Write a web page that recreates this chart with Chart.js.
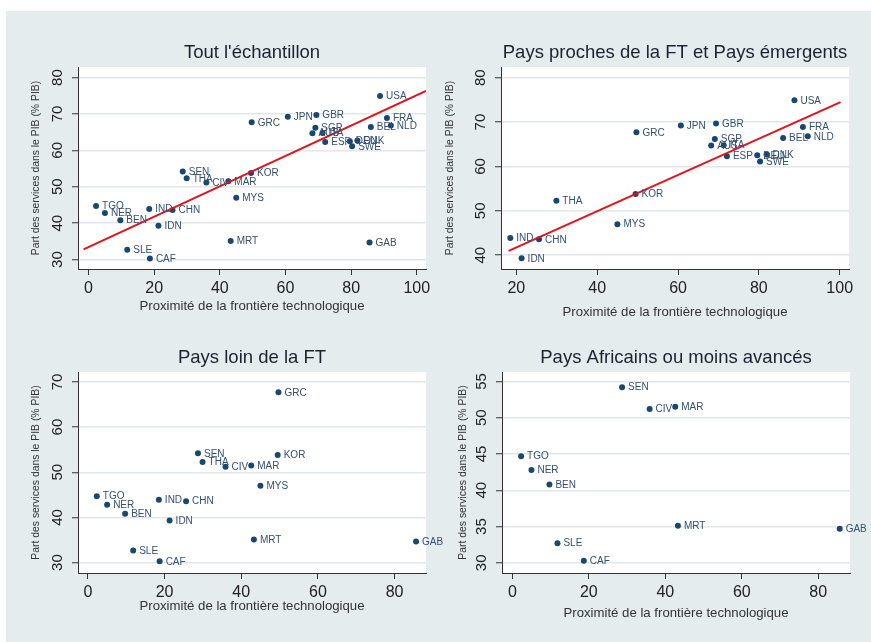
<!DOCTYPE html>
<html>
<head>
<meta charset="utf-8">
<script src="https://cdn.jsdelivr.net/npm/chart.js@4"></script>
<style>
body { margin: 0; background: #fff; }
#bg { position: absolute; left: 6px; top: 11px; width: 865px; height: 631px; background: #e4ecee; }
canvas { position: absolute; }
</style>
</head>
<body>
<div id="bg"></div>
<canvas id="c4" width="436" height="321" style="left:435px;top:321px"></canvas>
<canvas id="c3" width="460" height="321" style="left:0px;top:321px"></canvas>
<canvas id="c2" width="436" height="321" style="left:435px;top:0px"></canvas>
<canvas id="c1" width="435" height="321" style="left:0px;top:0px"></canvas>
<script>
// pays, proximité de la frontière technologique, part des services (% PIB)
const countries = ['USA', 'JPN', 'GBR', 'GRC', 'FRA', 'NLD', 'BEL', 'SGP', 'AUS', 'ITA',
    'ESP', 'DEU', 'DNK', 'SWE', 'KOR', 'SEN', 'THA', 'CIV', 'MAR', 'MYS',
    'TGO', 'NER', 'BEN', 'IND', 'CHN', 'IDN', 'MRT', 'GAB', 'SLE', 'CAF'];
const proximity = [88.8, 60.7, 69.4, 49.7, 90.9, 92.1, 86.0, 69.1, 68.2, 71.3,
    72.1, 79.6, 81.9, 80.3, 49.5, 28.7, 29.9, 35.9, 42.6, 45.0,
    2.3, 5.0, 9.7, 18.5, 25.6, 21.3, 43.3, 85.6, 11.8, 18.7];
const services = [74.9, 69.2, 69.7, 67.7, 68.9, 66.8, 66.4, 66.2, 64.7, 64.8,
    62.3, 62.5, 62.7, 61.1, 53.8, 54.2, 52.3, 51.2, 51.5, 47.0,
    44.7, 42.8, 40.8, 43.9, 43.6, 39.3, 35.1, 34.7, 32.7, 30.3];

const nearGroup = ['USA', 'JPN', 'GBR', 'GRC', 'FRA', 'NLD', 'BEL', 'SGP', 'AUS', 'ITA',
    'ESP', 'DEU', 'DNK', 'SWE', 'KOR', 'THA', 'MYS', 'IND', 'CHN', 'IDN'];
const farGroup = ['GRC', 'SEN', 'THA', 'CIV', 'MAR', 'KOR', 'MYS', 'TGO', 'NER', 'BEN',
    'IND', 'CHN', 'IDN', 'MRT', 'GAB', 'SLE', 'CAF'];
const africaGroup = ['SEN', 'CIV', 'MAR', 'TGO', 'NER', 'BEN', 'MRT', 'GAB', 'SLE', 'CAF'];

// droites d'ajustement
const fitAllX = [-1.5, 102.8];
const fitAllY = [32.8, 76.3];
const fitNearX = [18.1, 100.2];
const fitNearY = [41.0, 74.5];

const xTicksA = [0, 20, 40, 60, 80, 100];
const xTicksB = [20, 40, 60, 80, 100];
const xTicksC = [0, 20, 40, 60, 80];
const yTicksA = [30, 40, 50, 60, 70, 80];
const yTicksB = [40, 50, 60, 70, 80];
const yTicksC = [30, 40, 50, 60, 70];
const yTicksD = [30, 35, 40, 45, 50, 55];

const FONT = "'Liberation Sans', Arial, sans-serif";
const NAVY = '#1a476f';
const DARK = '#333333';

function pointsFor(group) {
    const pts = [];
    countries.forEach((c, i) => {
        if (!group || group.includes(c)) pts.push({ x: proximity[i], y: services[i], name: c });
    });
    return pts;
}

const plotBg = {
    id: 'plotBg',
    beforeDraw(chart) {
        const a = chart.chartArea, ctx = chart.ctx;
        ctx.save();
        ctx.fillStyle = '#ffffff';
        ctx.fillRect(a.left, a.top, a.right - a.left, a.bottom - a.top);
        ctx.restore();
    }
};

const pointNames = {
    id: 'pointNames',
    afterDatasetsDraw(chart) {
        const ctx = chart.ctx;
        const meta = chart.getDatasetMeta(0);
        const data = chart.data.datasets[0].data;
        ctx.save();
        ctx.font = '10px ' + FONT;
        ctx.fillStyle = '#34506e';
        ctx.textBaseline = 'middle';
        meta.data.forEach((el, i) => {
            ctx.fillText(data[i].name, el.x + 6, el.y + 0.5);
        });
        ctx.restore();
    }
};

function makePanel(id, o) {
    const datasets = [{
        data: pointsFor(o.group),
        backgroundColor: NAVY,
        borderColor: NAVY,
        pointRadius: 3,
        borderWidth: 0,
        order: 1
    }];
    if (o.fitX) {
        datasets.push({
            data: o.fitX.map((x, i) => ({ x: x, y: o.fitY[i] })),
            showLine: true,
            borderColor: '#e3121b',
            borderWidth: 2,
            pointRadius: 0,
            order: 0
        });
    }
    return new Chart(document.getElementById(id), {
        type: 'scatter',
        data: { datasets: datasets },
        plugins: [plotBg, pointNames],
        options: {
            responsive: false,
            animation: false,
            events: [],
            layout: { padding: { left: 0, right: o.padRight, top: 0, bottom: 0 } },
            plugins: {
                legend: { display: false },
                tooltip: { enabled: false },
                title: {
                    display: true,
                    text: o.title,
                    fullSize: false,
                    color: '#1c2230',
                    font: { family: FONT, size: 18.5, weight: 'normal', lineHeight: 1.2 },
                    padding: { top: o.titleTop, bottom: o.titleBottom }
                }
            },
            scales: {
                x: {
                    type: 'linear',
                    min: o.xMin, max: o.xMax,
                    afterBuildTicks: s => { s.ticks = o.xTicks.map(v => ({ value: v })); },
                    afterFit: s => { s.height = o.xHeight; },
                    grid: { drawOnChartArea: false, tickColor: DARK, tickLength: 6, tickWidth: 1 },
                    border: { color: DARK, width: 1 },
                    ticks: { autoSkip: false, maxRotation: 0, padding: 4, color: '#222', font: { family: FONT, size: 16 } },
                    title: {
                        display: true,
                        text: 'Proximité de la frontière technologique',
                        color: '#333',
                        font: { family: FONT, size: 13.2, lineHeight: 1.2 },
                        padding: { top: 0, bottom: o.xTitleBottom }
                    }
                },
                y: {
                    type: 'linear',
                    min: o.yMin, max: o.yMax,
                    afterBuildTicks: s => { s.ticks = o.yTicks.map(v => ({ value: v })); },
                    afterFit: s => { s.width = o.yWidth; },
                    grid: { color: '#dfe7ea', lineWidth: 1.5, tickColor: DARK, tickLength: 6, tickWidth: 1 },
                    border: { color: DARK, width: 1 },
                    ticks: {
                        autoSkip: false, minRotation: 90, maxRotation: 90, crossAlign: 'center',
                        padding: o.yTickPad, color: '#222', font: { family: FONT, size: 15 }
                    },
                    title: {
                        display: true,
                        text: 'Part des services dans le PIB (% PIB)',
                        color: '#333',
                        font: { family: FONT, size: 10.4, lineHeight: 1.2 },
                        padding: { top: o.yTitleTop, bottom: 0 }
                    }
                }
            }
        }
    });
}

makePanel('c1', {
    title: "Tout l'échantillon", group: null, fitX: fitAllX, fitY: fitAllY,
    xMin: -3.2, xMax: 102.8, yMin: 27.4, yMax: 82.9, xTicks: xTicksA, yTicks: yTicksA,
    padRight: 9, yWidth: 78, xHeight: 52, titleTop: 42, titleBottom: 2.8,
    xTitleBottom: 6.4, yTitleTop: 29.8, yTickPad: 6
});
makePanel('c2', {
    title: 'Pays proches de la FT et Pays émergents', group: nearGroup, fitX: fitNearX, fitY: fitNearY,
    xMin: 16.2, xMax: 102.3, yMin: 36.9, yMax: 82.4, xTicks: xTicksB, yTicks: yTicksB,
    padRight: 22, yWidth: 66, xHeight: 52, titleTop: 42, titleBottom: 2.8,
    xTitleBottom: 0.4, yTitleTop: 8.8, yTickPad: 6
});
makePanel('c3', {
    title: 'Pays loin de la FT', group: farGroup,
    xMin: -2.6, xMax: 88.2, yMin: 27.7, yMax: 72.2, xTicks: xTicksC, yTicks: yTicksC,
    padRight: 34, yWidth: 78, xHeight: 69, titleTop: 26, titleBottom: 2.8,
    xTitleBottom: 27.4, yTitleTop: 29.8, yTickPad: 6
});
makePanel('c4', {
    title: 'Pays Africains ou moins avancés', group: africaGroup,
    xMin: -2.7, xMax: 88.3, yMin: 28.6, yMax: 56.3, xTicks: xTicksC, yTicks: yTicksD,
    padRight: 21, yWidth: 67, xHeight: 69, titleTop: 26, titleBottom: 2.8,
    xTitleBottom: 20.4, yTitleTop: 21.5, yTickPad: 5.5
});
</script>
</body>
</html>
